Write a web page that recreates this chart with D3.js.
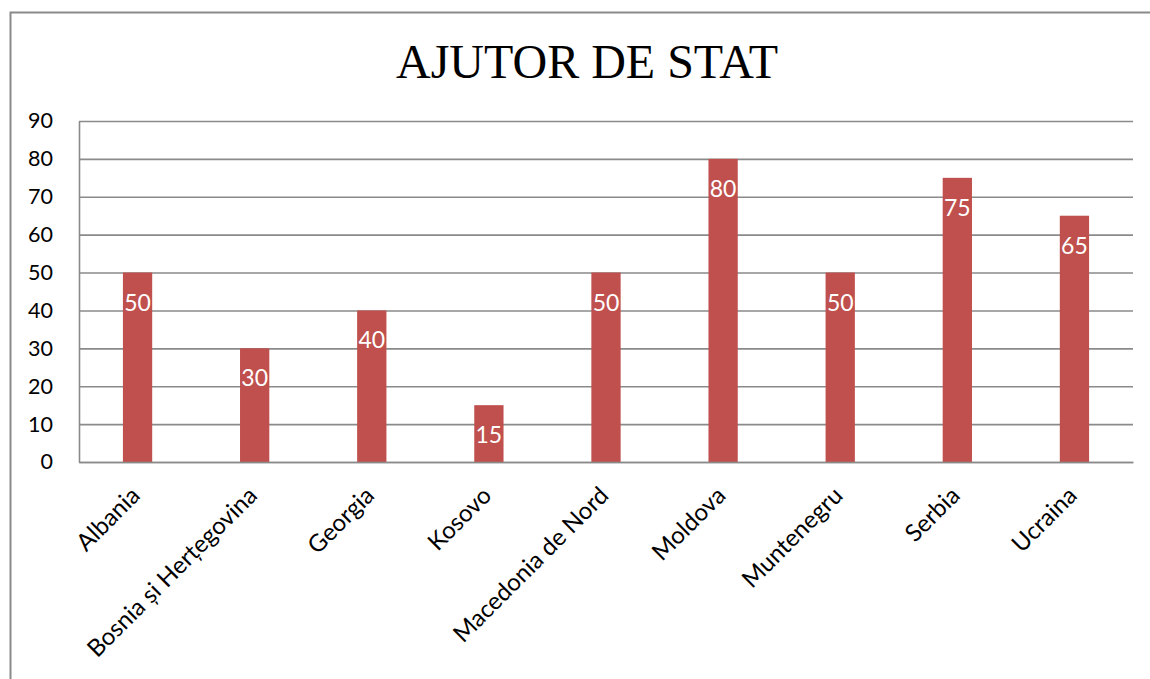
<!DOCTYPE html>
<html>
<head>
<meta charset="utf-8">
<script src="https://cdn.jsdelivr.net/npm/d3@7"></script>
<style>
    body { margin: 0; background: #fff; }
    svg { display: block; }
</style>
</head>
<body>
<div id="chart"></div>
<script>
    // values
    let countries = ["Albania", "Bosnia și Herțegovina", "Georgia", "Kosovo", "Macedonia de Nord",
        "Moldova", "Muntenegru", "Serbia", "Ucraina"];
    let values = [50, 30, 40, 15, 50, 80, 50, 75, 65];
    let yTicks = [0, 10, 20, 30, 40, 50, 60, 70, 80, 90];
    let chartTitle = "AJUTOR DE STAT";

    let data = countries.map((c, i) => ({ Country: c, Value: values[i] }));

    let W = 1150, H = 679;
    let margin = { top: 121, right: 17, bottom: 217, left: 79 };
    let width = W - margin.left - margin.right;
    let height = H - margin.top - margin.bottom;

    let svg = d3.select("#chart")
        .append("svg")
        .attr("width", W)
        .attr("height", H);

    // outer frame of the chart (runs off the right edge)
    svg.append("path")
        .attr("d", `M10.5,${H + 2} L10.5,12.5 L${W + 2},12.5`)
        .attr("fill", "none")
        .attr("stroke", "#8a8a8a")
        .attr("stroke-width", 2);

    svg.append("text")
        .attr("x", 587)
        .attr("y", 78)
        .attr("text-anchor", "middle")
        .style("font-family", "'Liberation Serif', 'Times New Roman', serif")
        .style("font-size", "48px")
        .style("fill", "#000")
        .text(chartTitle);

    let g = svg.append("g")
        .attr("transform", `translate(${margin.left}, ${margin.top})`);

    let x = d3.scaleBand()
        .domain(countries)
        .range([0, width])
        .paddingInner(0.75)
        .paddingOuter(0.375);

    let y = d3.scaleLinear()
        .domain([0, 90])
        .range([height, 0]);

    // horizontal grid
    g.append("g")
        .attr("class", "grid")
        .call(d3.axisLeft(y).tickValues(yTicks).tickSize(-width).tickFormat(""))
        .call(a => a.select(".domain").remove())
        .call(a => a.selectAll("line")
            .attr("stroke", "#8a8a8a")
            .attr("stroke-width", 1.6));

    // y axis
    g.append("g")
        .call(d3.axisLeft(y).tickValues(yTicks).tickSize(0).tickPadding(26))
        .call(a => a.select(".domain")
            .attr("stroke", "#8a8a8a")
            .attr("stroke-width", 1.6))
        .call(a => a.selectAll("text")
            .style("font-family", "Lato, 'Open Sans', sans-serif")
            .style("font-size", "21.5px")
            .style("fill", "#000"));

    // bars
    g.selectAll(".bar")
        .data(data)
        .join("rect")
        .attr("class", "bar")
        .attr("x", d => x(d.Country))
        .attr("y", d => y(d.Value))
        .attr("width", x.bandwidth())
        .attr("height", d => y(0) - y(d.Value))
        .attr("fill", "#c0504d");

    // x axis line
    g.append("g")
        .attr("transform", `translate(0, ${height})`)
        .call(d3.axisBottom(x).tickSize(0).tickFormat(""))
        .call(a => a.select(".domain")
            .attr("stroke", "#8a8a8a")
            .attr("stroke-width", 1.6));

    // rotated category labels
    g.selectAll(".catLabel")
        .data(data)
        .join("text")
        .attr("class", "catLabel")
        .attr("text-anchor", "end")
        .attr("transform", d => `translate(${x(d.Country) + x.bandwidth() / 2 + 4}, ${height + 35}) rotate(-45)`)
        .style("font-family", "Lato, 'Open Sans', sans-serif")
        .style("font-size", "24px")
        .style("fill", "#000")
        .text(d => d.Country);

    // value labels inside the bars
    g.selectAll(".plotText")
        .data(data)
        .join("text")
        .attr("class", "plotText")
        .attr("x", d => x(d.Country) + x.bandwidth() / 2)
        .attr("y", d => y(d.Value) + 30)
        .attr("dy", "0.35em")
        .attr("text-anchor", "middle")
        .style("font-family", "Lato, 'Open Sans', sans-serif")
        .style("font-size", "23px")
        .style("fill", "#fff")
        .text(d => d.Value);
</script>
</body>
</html>
